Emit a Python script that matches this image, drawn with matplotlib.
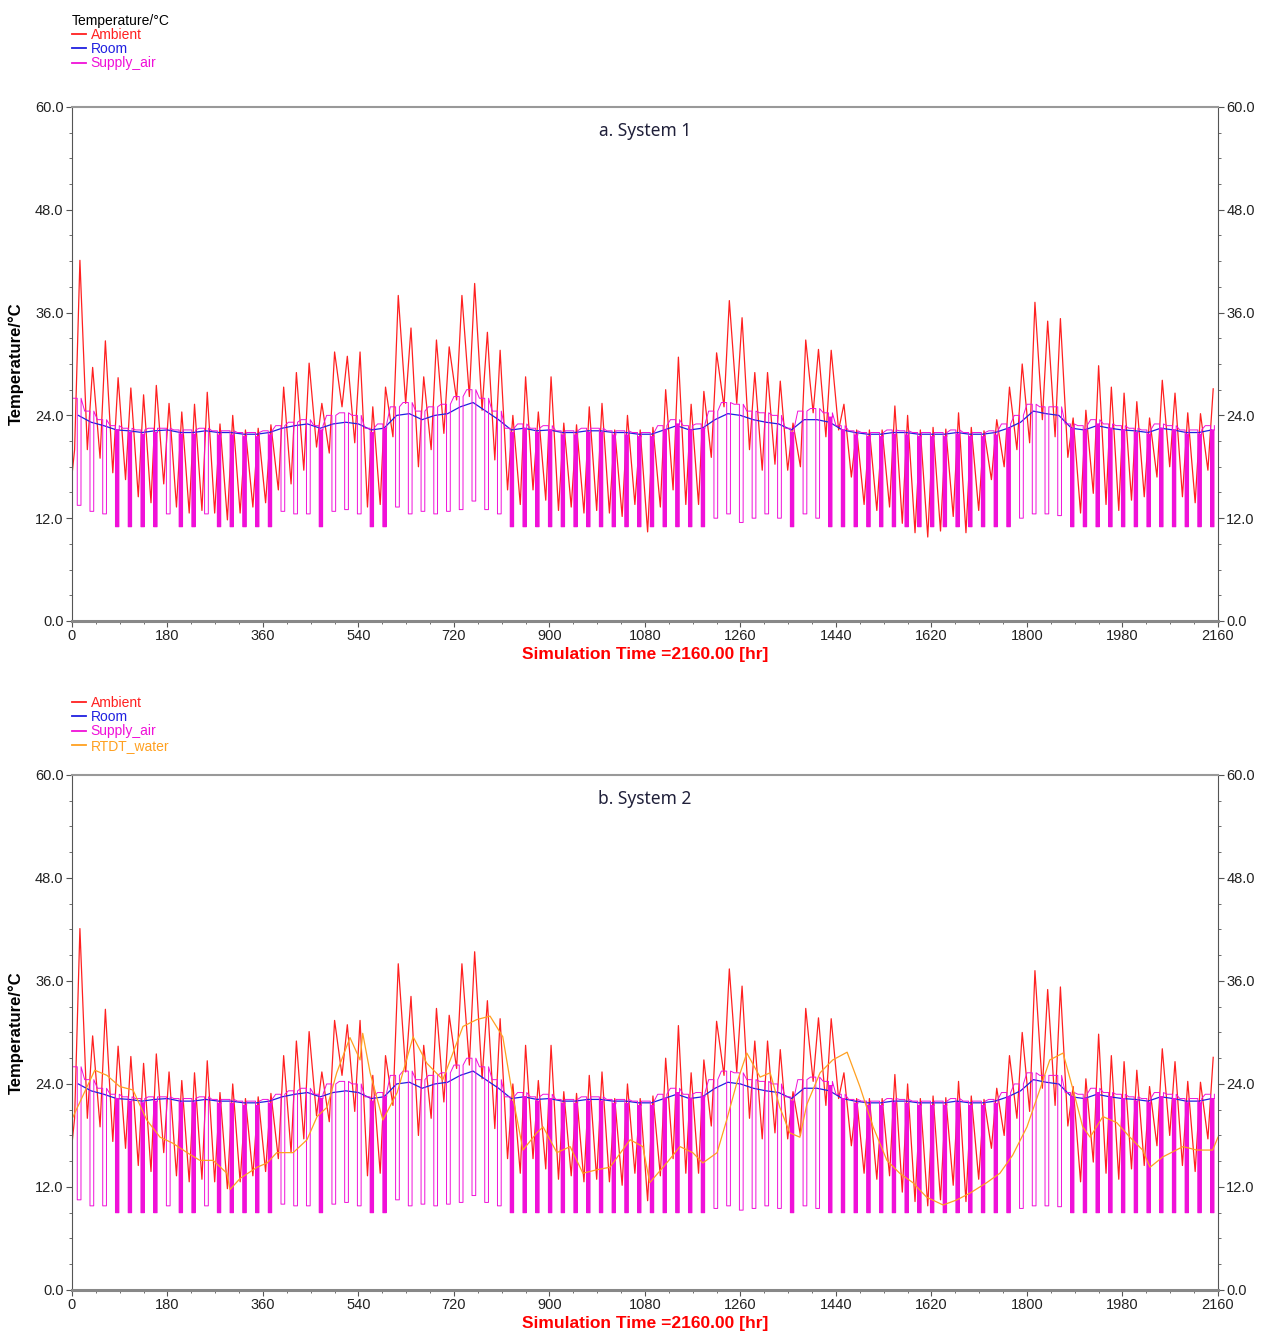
import matplotlib
matplotlib.use("Agg")
import matplotlib.pyplot as plt
from matplotlib.ticker import MultipleLocator, FormatStrFormatter
import numpy as np

# ---- data (one value per simulated day, 90 days) ----
days = np.arange(90)
amb_start = 17.0
# daily ambient maximum (afternoon) and minimum (early morning), degC
amb_max = [42.1, 29.6, 32.7, 28.4, 27.2, 26.4, 27.5, 25.4, 24.4, 25.3,
           26.7, 23.0, 24.0, 22.3, 22.5, 22.9, 27.3, 29.0, 30.1, 25.4,
           31.4, 30.9, 31.4, 25.0, 27.3, 38.0, 34.2, 28.5, 32.8, 32.0,
           38.0, 39.4, 33.7, 31.6, 24.0, 28.5, 24.4, 28.5, 23.1, 22.9,
           25.0, 25.4, 22.3, 24.0, 22.3, 22.6, 27.0, 30.8, 25.3, 26.8,
           31.3, 37.4, 35.4, 29.0, 29.0, 28.0, 23.1, 32.8, 31.7, 31.6,
           25.3, 22.3, 22.3, 22.3, 25.1, 24.0, 22.3, 22.6, 22.4, 24.3,
           22.6, 22.2, 23.5, 27.3, 30.0, 37.2, 35.0, 35.3, 23.7, 24.6,
           29.8, 27.3, 26.6, 25.6, 23.7, 28.1, 26.6, 24.3, 24.2, 27.1]
amb_min = [20.0, 20.0, 19.0, 17.3, 16.5, 14.5, 13.8, 16.0, 13.3, 12.6,
           12.9, 12.6, 11.8, 12.6, 13.3, 13.8, 15.3, 16.0, 17.6, 20.3,
           19.6, 25.0, 20.8, 13.3, 13.6, 21.5, 25.4, 18.0, 20.0, 21.9,
           25.8, 26.2, 24.6, 18.8, 15.3, 13.6, 15.3, 14.1, 12.9, 13.3,
           12.6, 12.9, 12.6, 12.2, 13.6, 10.4, 13.3, 15.3, 13.6, 13.6,
           19.1, 25.0, 25.4, 20.0, 17.6, 18.3, 17.6, 18.0, 24.3, 21.5,
           22.3, 16.8, 13.6, 12.9, 13.3, 11.4, 10.3, 9.8, 10.5, 12.2,
           10.3, 12.9, 16.5, 18.0, 20.0, 20.8, 23.5, 21.5, 19.1, 12.6,
           14.9, 13.6, 12.9, 14.1, 14.5, 16.8, 18.0, 14.5, 13.8, 17.6]

# room air temperature, daily level (same look in both systems)
room = [24.0, 23.2, 22.8, 22.3, 22.2, 22.0, 22.2, 22.3, 22.0, 22.0,
        22.2, 22.0, 22.0, 21.8, 21.8, 22.0, 22.5, 22.8, 23.0, 22.5,
        23.0, 23.2, 23.0, 22.3, 22.5, 24.0, 24.2, 23.5, 24.0, 24.2,
        25.0, 25.5, 24.5, 23.5, 22.3, 22.5, 22.2, 22.3, 22.0, 22.0,
        22.2, 22.2, 22.0, 22.0, 21.8, 21.8, 22.3, 22.8, 22.3, 22.5,
        23.5, 24.2, 24.0, 23.5, 23.2, 23.0, 22.3, 23.5, 23.5, 23.2,
        22.3, 22.0, 21.8, 21.8, 22.0, 22.0, 21.8, 21.8, 21.8, 22.0,
        21.8, 21.8, 22.0, 22.5, 23.2, 24.5, 24.2, 24.0, 22.5, 22.3,
        22.8, 22.5, 22.3, 22.2, 22.0, 22.5, 22.3, 22.0, 22.0, 22.3]

# supply air: level when the coil is off, and level while cooling
supply_hi = [26.0, 24.5, 23.5, 22.8, 22.5, 22.3, 22.5, 22.5, 22.3, 22.3,
             22.5, 22.2, 22.2, 22.0, 22.0, 22.2, 22.8, 23.2, 23.5, 22.8,
             24.0, 24.3, 24.0, 22.5, 23.0, 25.0, 25.5, 24.5, 25.0, 25.3,
             26.2, 27.0, 26.0, 24.5, 22.5, 23.0, 22.5, 22.8, 22.2, 22.2,
             22.5, 22.5, 22.2, 22.2, 22.0, 22.0, 22.8, 23.5, 22.8, 23.0,
             24.5, 25.5, 25.3, 24.5, 24.3, 24.0, 22.5, 24.5, 24.8, 24.3,
             22.8, 22.2, 22.0, 22.0, 22.3, 22.2, 22.0, 22.0, 22.0, 22.3,
             22.0, 22.0, 22.2, 23.0, 24.0, 25.3, 25.0, 25.0, 23.0, 22.8,
             23.5, 23.0, 22.8, 22.5, 22.3, 23.0, 22.8, 22.3, 22.3, 22.8]
supply_a_lo = [13.5, 12.8, 12.5, 11.0, 11.0, 11.0, 11.0, 12.5, 11.0, 11.0,
               12.5, 11.0, 11.0, 11.0, 11.0, 11.0, 12.8, 12.5, 12.5, 11.0,
               12.8, 13.0, 12.5, 11.0, 11.0, 13.3, 12.5, 12.8, 12.5, 12.8,
               13.0, 14.0, 13.0, 12.5, 11.0, 11.0, 11.0, 11.0, 11.0, 11.0,
               11.0, 11.0, 11.0, 11.0, 11.0, 11.0, 11.0, 11.0, 11.0, 11.0,
               12.0, 12.5, 11.5, 12.0, 12.5, 12.0, 11.0, 12.5, 12.0, 11.0,
               11.0, 11.0, 11.0, 11.0, 11.0, 11.0, 11.0, 11.0, 11.0, 11.0,
               11.0, 11.0, 11.0, 11.0, 12.0, 12.5, 12.5, 12.3, 11.0, 11.0,
               11.0, 11.0, 11.0, 11.0, 11.0, 11.0, 11.0, 11.0, 11.0, 11.0]
supply_b_lo = [10.5, 9.8, 9.8, 9.0, 9.0, 9.0, 9.0, 9.8, 9.0, 9.0,
               9.8, 9.0, 9.0, 9.0, 9.0, 9.0, 10.0, 9.8, 9.8, 9.0,
               10.0, 10.2, 9.8, 9.0, 9.0, 10.5, 9.8, 10.0, 9.8, 10.0,
               10.2, 11.0, 10.2, 9.8, 9.0, 9.0, 9.0, 9.0, 9.0, 9.0,
               9.0, 9.0, 9.0, 9.0, 9.0, 9.0, 9.0, 9.0, 9.0, 9.0,
               9.5, 9.8, 9.3, 9.5, 9.8, 9.5, 9.0, 9.8, 9.5, 9.0,
               9.0, 9.0, 9.0, 9.0, 9.0, 9.0, 9.0, 9.0, 9.0, 9.0,
               9.0, 9.0, 9.0, 9.0, 9.5, 9.8, 9.8, 9.7, 9.0, 9.0,
               9.0, 9.0, 9.0, 9.0, 9.0, 9.0, 9.0, 9.0, 9.0, 9.0]
# 1 = coil cycles on/off during the day, 0 = one steady cooling period
supply_cycling = [0, 0, 0, 1, 1, 1, 1, 0, 1, 1,
                  0, 1, 1, 1, 1, 1, 0, 0, 0, 1,
                  0, 0, 0, 1, 1, 0, 0, 0, 0, 0,
                  0, 0, 0, 0, 1, 1, 1, 1, 1, 1,
                  1, 1, 1, 1, 1, 1, 1, 1, 1, 1,
                  0, 0, 0, 0, 0, 0, 1, 0, 0, 1,
                  1, 1, 1, 1, 1, 1, 1, 1, 1, 1,
                  1, 1, 1, 1, 0, 0, 0, 0, 1, 1,
                  1, 1, 1, 1, 1, 1, 1, 1, 1, 1]

# RTDT water temperature (system 2), hour / degC
rtdt_hours = [0, 43, 66, 90, 115, 141, 166, 190, 217, 241, 266, 292, 298, 317,
              349, 368, 386, 417, 443, 462, 481, 499, 524, 543, 548, 562, 586,
              613, 643, 669, 699, 737, 763, 788, 812, 831, 850, 876, 888, 914,
              939, 963, 989, 1014, 1052, 1076, 1089, 1121, 1146, 1170, 1189,
              1216, 1234, 1253, 1272, 1297, 1316, 1334, 1353, 1372, 1385, 1410,
              1434, 1461, 1485, 1510, 1536, 1560, 1585, 1611, 1642, 1668, 1693,
              1724, 1749, 1773, 1800, 1824, 1843, 1868, 1887, 1905, 1919, 1943,
              1969, 1994, 2018, 2032, 2056, 2094, 2120, 2150, 2160]
rtdt_temp = [19.9, 25.6, 25.0, 23.7, 23.3, 19.8, 17.8, 17.1, 16.0, 15.1, 15.1,
             13.6, 11.7, 13.0, 14.3, 14.8, 16.0, 16.0, 17.5, 20.2, 21.3, 25.3,
             29.4, 26.8, 29.9, 25.3, 19.8, 23.0, 29.5, 26.4, 24.5, 30.7, 31.5,
             31.9, 29.5, 22.5, 16.3, 18.3, 19.0, 16.0, 16.7, 13.6, 14.0, 14.3,
             17.5, 16.7, 12.5, 14.8, 16.7, 16.0, 14.8, 16.0, 19.8, 24.1, 27.6,
             24.8, 25.3, 21.3, 18.3, 17.8, 21.6, 25.3, 26.8, 27.7, 23.7, 19.0,
             15.1, 13.6, 12.5, 10.8, 9.9, 10.5, 11.3, 12.5, 13.6, 15.7, 19.0,
             23.3, 26.8, 27.6, 23.3, 19.0, 17.8, 20.2, 19.5, 17.8, 16.3, 14.3,
             15.5, 16.7, 16.3, 16.3, 17.8]

hours_per_day = 24


def ambient_series():
    t, v = [0], [amb_start]
    for d in days:
        t += [d * hours_per_day + 5, d * hours_per_day + 15]
        v += [amb_min[d], amb_max[d]]
    return t, v


def supply_series(lo_vals):
    # off level all night, drop to the cooling level during the afternoon
    t, v = [], []
    for d in days:
        h0 = d * hours_per_day
        t += [h0, h0 + 10]
        v += [supply_hi[d], supply_hi[d]]
        if supply_cycling[d]:
            for k in range(4):
                s = h0 + 10 + 1.8 * k
                t += [s, s + 1.1, s + 1.1, s + 1.8]
                v += [lo_vals[d], lo_vals[d], supply_hi[d] - 0.5, supply_hi[d] - 0.5]
        else:
            t += [h0 + 10, h0 + 17]
            v += [lo_vals[d], lo_vals[d]]
        t += [h0 + 17.2]
        v += [supply_hi[d]]
    return t, v


def room_series():
    return [d * hours_per_day + 12 for d in days], room


narrow = ['Liberation Sans Narrow', 'Liberation Sans', 'DejaVu Sans']
plt.rcParams['font.family'] = ['Liberation Sans', 'DejaVu Sans']

fig = plt.figure(figsize=(12.69, 13.34), dpi=100)
ax_a = fig.add_axes([0.0567, 0.5345, 0.9031, 0.3853])
ax_b = fig.add_axes([0.0567, 0.0330, 0.9031, 0.3861])

RED, BLUE, MAG, ORG = '#ff2020', '#2020e0', '#f010d8', '#ffa020'


def style_axes(ax, title):
    ax.set_xlim(0, 2160)
    ax.set_ylim(0, 60)
    ax.xaxis.set_major_locator(MultipleLocator(180))
    ax.xaxis.set_minor_locator(MultipleLocator(45))
    ax.yaxis.set_major_locator(MultipleLocator(12))
    ax.yaxis.set_minor_locator(MultipleLocator(3))
    ax.yaxis.set_major_formatter(FormatStrFormatter('%.1f'))
    ax.tick_params(which='both', right=True, labelright=True, direction='out',
                   colors='#555555', labelcolor='#222222', labelsize=10.5, pad=2)
    ax.tick_params(which='major', length=4)
    ax.tick_params(which='minor', length=2)
    for lab in ax.get_xticklabels() + ax.get_yticklabels():
        lab.set_family(narrow)
    for s in ['left', 'right']:
        ax.spines[s].set_color('#555555')
    ax.spines['top'].set_color('#999999')
    ax.spines['top'].set_linewidth(1.5)
    ax.spines['bottom'].set_color('#888888')
    ax.spines['bottom'].set_linewidth(2.2)
    ax.set_ylabel('Temperature/°C', fontsize=12, fontweight='bold', labelpad=8)
    ax.set_xlabel('Simulation Time =2160.00 [hr]', color='red', fontsize=12.5,
                  fontweight='bold', family=narrow, labelpad=3)
    ax.text(0.5, 0.953, title, transform=ax.transAxes, ha='center', va='center',
            fontsize=12.5, color='#20203a', family=['Noto Sans', 'DejaVu Sans'])


t_amb, v_amb = ambient_series()
t_room, v_room = room_series()

# panel a
ax_a.plot(t_amb, v_amb, color=RED, lw=0.9, label='Ambient')
ax_a.plot(t_room, v_room, color=BLUE, lw=0.9, label='Room')
t_s, v_s = supply_series(supply_a_lo)
ax_a.plot(t_s, v_s, color=MAG, lw=0.7, label='Supply_air')
style_axes(ax_a, 'a. System 1')
leg_a = ax_a.legend(loc='lower left', bbox_to_anchor=(0.0, 1.071), frameon=False,
                    fontsize=10, handlelength=1.0, handletextpad=0.35, labelspacing=0.02,
                    borderpad=0, borderaxespad=0, labelcolor='linecolor',
                    title='Temperature/°C', alignment='left', title_fontsize=10)

# panel b
ax_b.plot(t_amb, v_amb, color=RED, lw=0.9, label='Ambient')
ax_b.plot(t_room, v_room, color=BLUE, lw=0.9, label='Room')
t_s, v_s = supply_series(supply_b_lo)
ax_b.plot(t_s, v_s, color=MAG, lw=0.7, label='Supply_air')
ax_b.plot(rtdt_hours, rtdt_temp, color=ORG, lw=0.9, label='RTDT_water')
style_axes(ax_b, 'b. System 2')
leg_b = ax_b.legend(loc='lower left', bbox_to_anchor=(0.0, 1.043), frameon=False,
                    fontsize=10, handlelength=1.0, handletextpad=0.35, labelspacing=0.02,
                    borderpad=0, borderaxespad=0, labelcolor='linecolor')

for leg in (leg_a, leg_b):
    for h in leg.legend_handles:
        h.set_linewidth(1.3)

fig.savefig('out.png', dpi=100)
